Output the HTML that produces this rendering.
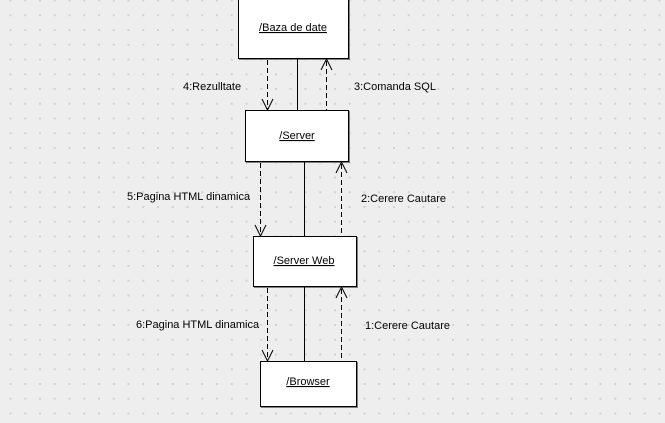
<!DOCTYPE html>
<html><head><meta charset="utf-8"><style>
html,body{margin:0;padding:0;background:#eeeeee;}
svg{display:block;}
text{font-family:"Liberation Sans",sans-serif;font-size:11px;fill:#000;}
</style></head><body>
<svg width="665" height="423" xmlns="http://www.w3.org/2000/svg">
<defs>
<pattern id="g" x="9.5" y="-0.5" width="14.75" height="14.75" patternUnits="userSpaceOnUse">
<rect x="0" y="0" width="2" height="2" fill="#d2d2d2"/>
</pattern>
</defs>
<rect width="665" height="423" fill="#eeeeee"/>
<rect width="665" height="423" fill="url(#g)"/>
<g fill="#fff" stroke="#000" stroke-width="1">
<rect x="238.5" y="-1.5" width="110" height="60"/>
<rect x="245.5" y="110.5" width="103" height="51"/>
<rect x="253.5" y="236.5" width="103" height="50"/>
<rect x="260.5" y="361.5" width="96" height="45"/>
</g>
<g fill="none" stroke="#808080" stroke-width="1">
<polyline points="349.5,0 349.5,59.5 239,59.5"/>
<polyline points="349.5,111 349.5,162.5 246,162.5"/>
<polyline points="357.5,237 357.5,287.5 254,287.5"/>
<polyline points="357.5,362 357.5,407.5 261,407.5"/>
</g>
<g stroke="#000" stroke-width="1" fill="none">
<line x1="297.5" y1="59" x2="297.5" y2="110"/>
<line x1="304.5" y1="162" x2="304.5" y2="236"/>
<line x1="304.5" y1="287" x2="304.5" y2="361"/>
<g stroke-dasharray="5,3">
<line x1="267.5" y1="60" x2="267.5" y2="109"/>
<line x1="326.5" y1="61" x2="326.5" y2="110"/>
<line x1="260.5" y1="163" x2="260.5" y2="235"/>
<line x1="341.5" y1="164" x2="341.5" y2="236"/>
<line x1="267.5" y1="288" x2="267.5" y2="360"/>
<line x1="341.5" y1="289" x2="341.5" y2="361"/>
</g>
<polyline points="262,99 267.5,110 273,99"/>
<polyline points="321,70 326.5,59 332,70"/>
<polyline points="255,225 260.5,236 266,225"/>
<polyline points="336,173 341.5,162 347,173"/>
<polyline points="262,350 267.5,361 273,350"/>
<polyline points="336,298 341.5,287 347,298"/>
</g>
<g text-decoration="underline">
<text x="293" y="31" text-anchor="middle">/Baza de date</text>
<text x="297" y="139" text-anchor="middle">/Server</text>
<text x="304" y="264" text-anchor="middle">/Server Web </text>
<text x="308" y="385" text-anchor="middle">/Browser</text>
</g>
<text x="183" y="90">4:Rezulltate</text>
<text x="354" y="90">3:Comanda SQL</text>
<text x="127" y="200">5:Pagina HTML dinamica</text>
<text x="361" y="202">2:Cerere Cautare</text>
<text x="136" y="328">6:Pagina HTML dinamica</text>
<text x="365" y="329">1:Cerere Cautare</text>
</svg>
</body></html>
